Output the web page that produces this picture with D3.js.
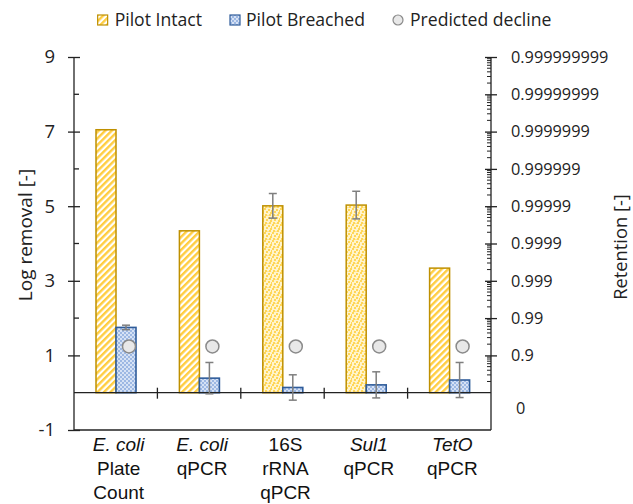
<!DOCTYPE html>
<html><head><meta charset="utf-8">
<script src="https://cdn.jsdelivr.net/npm/d3@7"></script>
<style>
body{margin:0;background:#fff;}
svg{display:block;}
</style></head>
<body>
<svg id="chart" width="633" height="504"></svg>
<script>
// ---- data ----
const categories = ["E. coli Plate Count","E. coli qPCR","16S rRNA qPCR","Sul1 qPCR","TetO qPCR"];
const categoryLines = [["E. coli","Plate","Count"],["E. coli","qPCR"],["16S","rRNA","qPCR"],["Sul1","qPCR"],["TetO","qPCR"]];
const italicFirstLine = [true,true,false,true,true];
const series = ["Pilot Intact","Pilot Breached"];
const intactValues = [7.05, 4.34, 5.01, 5.03, 3.34];
const intactErrors = [0, 0, 0.33, 0.37, 0];
const intactFill = ["stripe","stripe","dots","dots","stripe"];
const breachedValues = [1.75, 0.39, 0.14, 0.21, 0.34];
const breachedErrors = [0.06, 0.42, 0.34, 0.35, 0.47];
const predictedDecline = [1.24, 1.24, 1.24, 1.24, 1.24];
const leftTicks = [-1, 1, 3, 5, 7, 9];
const leftMinorTicks = [8, 6, 4, 2];
const retentionTicks = [1,2,3,4,5,6,7,8,9];
const retentionLabels = ["0.9","0.99","0.999","0.9999","0.99999","0.999999","0.9999999","0.99999999","0.999999999"];
const retentionZeroLabel = "0";

// ---- layout ----
const svg = d3.select("#chart");
const L = 74, R = 491, T = 57, B = 430;
const y = d3.scaleLinear().domain([-1, 9]).range([B, T]);
const x0 = d3.scaleBand().domain(categories).range([L, R]).padding(0);
const x1 = d3.scaleBand().domain(series).range([22, 62]).padding(0);
const FONT = "'Open Sans', sans-serif";

const defs = svg.append("defs");
// stripes
const ps = defs.append("pattern").attr("id","stripe").attr("patternUnits","userSpaceOnUse")
  .attr("width",4.6).attr("height",4.6).attr("patternTransform","rotate(45)");
ps.append("rect").attr("width",4.6).attr("height",4.6).attr("fill","#fff");
ps.append("rect").attr("x",0).attr("width",2.4).attr("height",4.6).attr("fill","#FFCD40");
// dots (confetti)
const pd = defs.append("pattern").attr("id","dots").attr("patternUnits","userSpaceOnUse")
  .attr("width",8).attr("height",8);
pd.append("rect").attr("width",8).attr("height",8).attr("fill","#FFF4CC");
[[0,0],[4,1],[2,3],[6,4],[1,6],[5,6],[3,7.5],[7,2]].forEach(p=>
  pd.append("rect").attr("x",p[0]).attr("y",p[1]).attr("width",2).attr("height",2).attr("fill","#FFD659"));
// blue checker
const pb = defs.append("pattern").attr("id","blue").attr("patternUnits","userSpaceOnUse")
  .attr("width",4).attr("height",4);
pb.append("rect").attr("width",4).attr("height",4).attr("fill","#D6E2F5");
pb.append("rect").attr("x",0).attr("y",0).attr("width",2).attr("height",2).attr("fill","#9DB8E3");
pb.append("rect").attr("x",2).attr("y",2).attr("width",2).attr("height",2).attr("fill","#9DB8E3");

const axisColor = "#222";
const sw = 1.3;

// bars
const g = svg.append("g");
categories.forEach((c,i)=>{
  const gx = x0(c);
  g.append("rect").attr("x",gx + x1("Pilot Intact")).attr("y",y(intactValues[i]))
    .attr("width",x1.bandwidth()).attr("height",y(0)-y(intactValues[i]))
    .attr("fill","url(#"+intactFill[i]+")").attr("stroke","#BF9000").attr("stroke-width",1.5);
  g.append("rect").attr("x",gx + x1("Pilot Breached")).attr("y",y(breachedValues[i]))
    .attr("width",x1.bandwidth()).attr("height",y(0)-y(breachedValues[i]))
    .attr("fill","url(#blue)").attr("stroke","#2F5C9A").attr("stroke-width",1.6);
});

// axes frame
svg.append("line").attr("x1",L).attr("x2",L).attr("y1",T).attr("y2",B).attr("stroke",axisColor).attr("stroke-width",sw);
svg.append("line").attr("x1",R).attr("x2",R).attr("y1",T).attr("y2",B).attr("stroke",axisColor).attr("stroke-width",sw);
svg.append("line").attr("x1",L).attr("x2",R).attr("y1",B).attr("y2",B).attr("stroke",axisColor).attr("stroke-width",sw);
svg.append("line").attr("x1",L).attr("x2",R).attr("y1",y(0)).attr("y2",y(0)).attr("stroke",axisColor).attr("stroke-width",sw);

// left axis
const leftAxis = d3.axisLeft(y).tickValues(leftTicks).tickSize(5).tickFormat(d=>String(d));
const la = svg.append("g").attr("transform",`translate(${L},0)`).call(leftAxis);
la.select(".domain").remove();
la.selectAll(".tick line").attr("stroke",axisColor).attr("stroke-width",sw).attr("x2",-6).attr("x1",6);
la.selectAll(".tick text").attr("x",-19).attr("font-family",FONT).attr("font-size",18.5).attr("fill","#222");
leftMinorTicks.forEach(v=>svg.append("line").attr("x1",L).attr("x2",L+5).attr("y1",y(v)).attr("y2",y(v)).attr("stroke",axisColor).attr("stroke-width",sw));

// category separators
categories.slice(1).forEach(c=>{
  svg.append("line").attr("x1",x0(c)).attr("x2",x0(c)).attr("y1",y(0)-5).attr("y2",y(0)+6).attr("stroke",axisColor).attr("stroke-width",sw);
});

// right axis
const rightAxis = d3.axisRight(y).tickValues(retentionTicks).tickSize(5).tickFormat((d,i)=>retentionLabels[i]);
const ra = svg.append("g").attr("transform",`translate(${R},0)`).call(rightAxis);
ra.select(".domain").remove();
ra.selectAll(".tick line").attr("stroke",axisColor).attr("stroke-width",sw).attr("x1",-6).attr("x2",6);
ra.selectAll(".tick text").attr("x",20).attr("font-family",FONT).attr("font-size",16.3).attr("fill","#222");
for(let n=0;n<9;n++){
  for(let k=2;k<=9;k++){
    const v = n + Math.log10(k);
    svg.append("line").attr("x1",R-4).attr("x2",R).attr("y1",y(v)).attr("y2",y(v)).attr("stroke",axisColor).attr("stroke-width",1);
  }
}
svg.append("text").attr("x",R+25).attr("y",y(0)+16).attr("dy","0.32em").attr("text-anchor","start")
  .attr("font-family",FONT).attr("font-size",16.3).attr("fill","#222").text(retentionZeroLabel);

// error bars
function errBar(cx, v, e){
  if(!e) return;
  const col="#7F7F7F";
  svg.append("line").attr("x1",cx).attr("x2",cx).attr("y1",y(v+e)).attr("y2",y(v-e)).attr("stroke",col).attr("stroke-width",1.5);
  [v+e,v-e].forEach(t=>svg.append("line").attr("x1",cx-4).attr("x2",cx+4).attr("y1",y(t)).attr("y2",y(t)).attr("stroke",col).attr("stroke-width",1.5));
}
categories.forEach((c,i)=>{
  errBar(x0(c)+x1("Pilot Intact")+x1.bandwidth()/2, intactValues[i], intactErrors[i]);
  errBar(x0(c)+x1("Pilot Breached")+x1.bandwidth()/2, breachedValues[i], breachedErrors[i]);
});

// predicted decline circles
categories.forEach((c,i)=>{
  svg.append("circle").attr("cx",x0(c)+x1("Pilot Breached")+x1.bandwidth()/2+3).attr("cy",y(predictedDecline[i]))
    .attr("r",6.5).attr("fill","#E8E8E8").attr("stroke","#8A8A8A").attr("stroke-width",1.5);
});

// category labels
categories.forEach((c,i)=>{
  const cx = x0(c)+x0.bandwidth()/2+3;
  categoryLines[i].forEach((ln,j)=>{
    svg.append("text").attr("x",cx).attr("y",451+j*24).attr("text-anchor","middle")
      .attr("font-family","'Liberation Sans', Arial, sans-serif").attr("font-size",19)
      .attr("font-style",(j===0&&italicFirstLine[i])?"italic":"normal").attr("fill","#111").text(ln);
  });
});

// axis titles
svg.append("text").attr("transform",`translate(32,${235}) rotate(-90)`).attr("text-anchor","middle")
  .attr("font-family",FONT).attr("font-size",19).attr("fill","#222").text("Log removal [-]");
svg.append("text").attr("transform",`translate(627,${247}) rotate(-90)`).attr("text-anchor","middle")
  .attr("font-family",FONT).attr("font-size",18.3).attr("fill","#222").text("Retention [-]");

// legend
const lg = svg.append("g").attr("font-family",FONT).attr("font-size",17.6).attr("fill","#222");
const t1 = lg.append("text").attr("x",202).attr("y",20).attr("dy","0.35em").attr("text-anchor","end").text(series[0]);
const w1 = t1.node().getComputedTextLength();
lg.append("rect").attr("x",202-w1-17).attr("y",15).attr("width",10).attr("height",10).attr("fill","url(#stripe)").attr("stroke","#BF9000").attr("stroke-width",1.2);
lg.append("rect").attr("x",230).attr("y",15).attr("width",10).attr("height",10).attr("fill","url(#blue)").attr("stroke","#2F5C9A").attr("stroke-width",1.2);
lg.append("text").attr("x",246).attr("y",20).attr("dy","0.35em").text(series[1]);
lg.append("circle").attr("cx",398).attr("cy",20).attr("r",5).attr("fill","#E8E8E8").attr("stroke","#8A8A8A").attr("stroke-width",1.2);
lg.append("text").attr("x",410).attr("y",20).attr("dy","0.35em").text("Predicted decline");
</script>
</body></html>
